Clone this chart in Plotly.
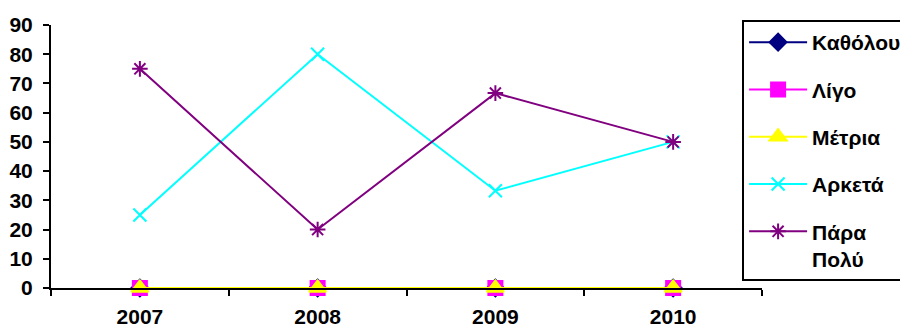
import plotly.graph_objects as go

# Survey answers per year
years = ["2007", "2008", "2009", "2010"]
katholou = [0, 0, 0, 0]
ligo = [0, 0, 0, 0]
metria = [0, 0, 0, 0]
arketa = [25, 80, 33.3, 50]
para_poly = [75, 20, 66.7, 50]

FONT = "Liberation Sans, Arial, sans-serif"
FS = 21

series = [
    ("Καθόλου", katholou, "#000080", "diamond", 13),
    ("Λίγο", ligo, "#FF00FF", "square", 14),
    ("Μέτρια", metria, "#FFFF00", "triangle-up", 15),
    ("Αρκετά", arketa, "#00FFFF", "x-thin-open", 13),
    ("Πάρα<br>Πολύ", para_poly, "#800080", "asterisk-open", 13),
]

fig = go.Figure()
for i, (name, vals, color, symbol, size) in enumerate(series):
    fig.add_trace(go.Scatter(
        x=years, y=vals, name=name, mode="lines+markers",
        line=dict(color=color, width=2),
        marker=dict(symbol=symbol, size=size, color=color,
                    line=dict(color=color, width=2)),
        legendgroup=str(i),
        cliponaxis=False,
    ))

fig.update_layout(
    width=900, height=327, autosize=False,
    margin=dict(l=51, r=138, t=25, b=39, autoexpand=False),
    paper_bgcolor="white", plot_bgcolor="white",
    font=dict(family=FONT, size=FS, color="black"),
    showlegend=True,
    legend=dict(
        x=0.972, y=1.019, xanchor="left", yanchor="top",
        bgcolor="white", bordercolor="black", borderwidth=2,
        font=dict(family=FONT, size=FS, color="black", weight="bold"),
        tracegroupgap=17, valign="top", maxheight=400, itemwidth=58,
    ),
)

fig.update_xaxes(
    type="category", range=[-0.5, 3.5],
    showline=True, linecolor="black", linewidth=2,
    ticks="outside", tickson="boundaries", ticklen=6, tickwidth=2,
    tickcolor="black", showgrid=False, zeroline=False,
    ticklabelstandoff=9,
    tickfont=dict(family=FONT, size=FS, color="black", weight="bold"),
)
fig.update_yaxes(
    range=[0, 90], dtick=10,
    showline=True, linecolor="black", linewidth=2,
    ticks="outside", ticklen=6, tickwidth=2, tickcolor="black",
    showgrid=False, zeroline=False,
    ticklabelstandoff=6,
    tickfont=dict(family=FONT, size=FS, color="black", weight="bold"),
)

fig.write_html("out.html")
